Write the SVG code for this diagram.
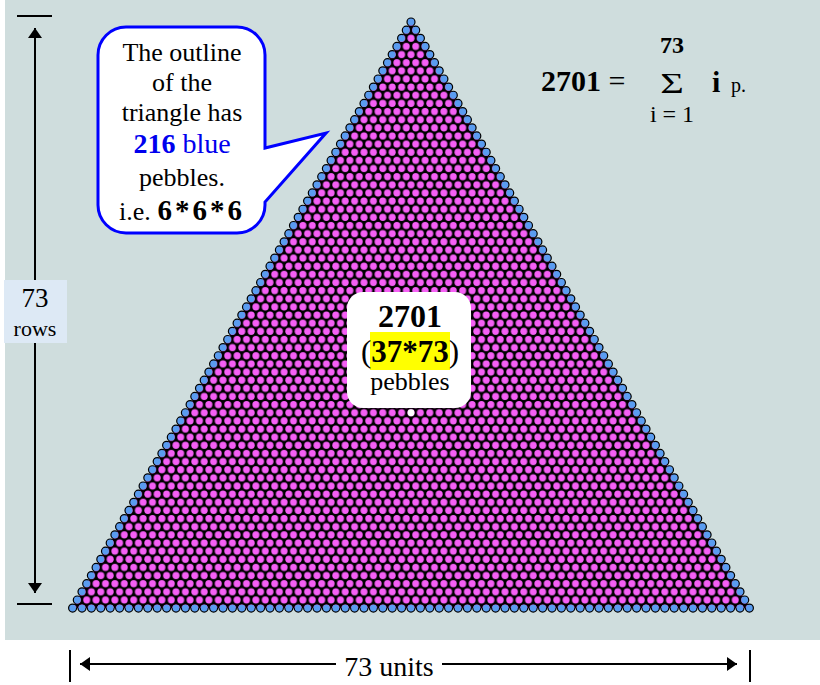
<svg xmlns="http://www.w3.org/2000/svg" width="820" height="685" viewBox="0 0 820 685">
<style>
.s{font-family:"Liberation Serif","Times New Roman",serif;fill:#000}
.b{font-weight:bold}
.dim{stroke:#000;stroke-width:2;fill:none}
.edgeK{fill:none;stroke:#000;stroke-width:9.2;stroke-linecap:round;stroke-dasharray:0 1}
.edgeB{fill:none;stroke:#5a9cf0;stroke-width:6.8;stroke-linecap:round;stroke-dasharray:0 1}
</style>
<defs>
<pattern id="peb" patternUnits="userSpaceOnUse" x="406.3" y="17.9297" width="9.4" height="16.2812">
<circle cx="4.7" cy="4.0703" r="3.5" fill="#f55ff5"/>
<circle cx="0" cy="12.2109" r="3.5" fill="#f55ff5"/>
<circle cx="9.4" cy="12.2109" r="3.5" fill="#f55ff5"/>
</pattern>
<marker id="arr" viewBox="0 0 10 14" refX="10" refY="7" markerWidth="10" markerHeight="14" markerUnits="userSpaceOnUse" orient="auto-start-reverse">
<path d="M0,0 L10,7 L0,14 Z" fill="#000"/>
</marker>
</defs>
<rect id="panel" x="5" y="0" width="815" height="640" fill="#cfdddd"/>
<g id="triangle">
<polygon points="411,22 72.6,608.12 749.4,608.12" fill="#000"/>
<path class="edgeK" pathLength="72" d="M411,22 L72.6,608.12"/>
<path class="edgeK" pathLength="72" d="M72.6,608.12 L749.4,608.12"/>
<path class="edgeK" pathLength="72" d="M749.4,608.12 L411,22"/>
<polygon points="411,22 72.6,608.12 749.4,608.12" fill="url(#peb)"/>
<path class="edgeB" pathLength="72" d="M411,22 L72.6,608.12"/>
<path class="edgeB" pathLength="72" d="M72.6,608.12 L749.4,608.12"/>
<path class="edgeB" pathLength="72" d="M749.4,608.12 L411,22"/>
<circle cx="411" cy="412.75" r="3.4" fill="#fff"/>
</g>
<g id="connectors">
<line class="dim" x1="17" y1="16" x2="52" y2="16"/>
<line class="dim" x1="17" y1="604" x2="52" y2="604"/>
<line class="dim" x1="35" y1="28" x2="35" y2="593" marker-start="url(#arr)" marker-end="url(#arr)"/>
<line class="dim" x1="70" y1="650" x2="70" y2="682"/>
<line class="dim" x1="750" y1="650" x2="750" y2="682"/>
<line class="dim" x1="80" y1="664" x2="336" y2="664" marker-start="url(#arr)"/>
<line class="dim" x1="442" y1="664" x2="737" y2="664" marker-end="url(#arr)"/>
</g>
<g id="rows-label" class="s">
<rect x="4" y="280" width="63" height="63" fill="#dde9f5"/>
<text x="35" y="307" font-size="27" text-anchor="middle">73</text>
<text x="35" y="336" font-size="22" text-anchor="middle">rows</text>
</g>
<g id="units-label" class="s">
<text x="389" y="676" font-size="28" text-anchor="middle">73 units</text>
</g>
<g id="callout" class="s">
<path d="M126,27 H237 A28,28 0 0 1 265,55 V148 L326,133 L265,202 V205 A28,28 0 0 1 237,233 H126 A28,28 0 0 1 98,205 V55 A28,28 0 0 1 126,27 Z" fill="#fff" stroke="#0000ff" stroke-width="3"/>
<text x="182" y="61" font-size="26" text-anchor="middle">The outline</text>
<text x="182" y="91" font-size="26" text-anchor="middle">of the</text>
<text x="182" y="121" font-size="26" text-anchor="middle">triangle has</text>
<text x="182" y="153" font-size="28" text-anchor="middle" fill="#0000ee"><tspan class="b">216</tspan> blue</text>
<text x="182" y="186" font-size="26" text-anchor="middle">pebbles.</text>
<text x="182" y="220" font-size="26" text-anchor="middle">i.e. <tspan class="b" font-size="29" letter-spacing="3">6*6*6</tspan></text>
</g>
<g id="count-box" class="s">
<rect x="347" y="292" width="124" height="116" rx="16" fill="#fff"/>
<rect x="370" y="332" width="80" height="38" fill="#ffff00"/>
<text class="b" x="410" y="327" font-size="32" text-anchor="middle">2701</text>
<text x="410" y="362" font-size="31" text-anchor="middle">(<tspan class="b">37*73</tspan>)</text>
<text x="410" y="390" font-size="26" text-anchor="middle">pebbles</text>
</g>
<g id="formula" class="s">
<text x="541" y="91" font-size="30"><tspan class="b">2701</tspan> =</text>
<text class="b" x="672" y="53" font-size="24" text-anchor="middle">73</text>
<text transform="translate(672,93) scale(1.35,1)" font-size="30" text-anchor="middle">Σ</text>
<text class="b" x="712" y="92" font-size="30">i</text>
<text x="731" y="92" font-size="20">p.</text>
<text x="672" y="122" font-size="24" text-anchor="middle">i = 1</text>
</g>
</svg>
